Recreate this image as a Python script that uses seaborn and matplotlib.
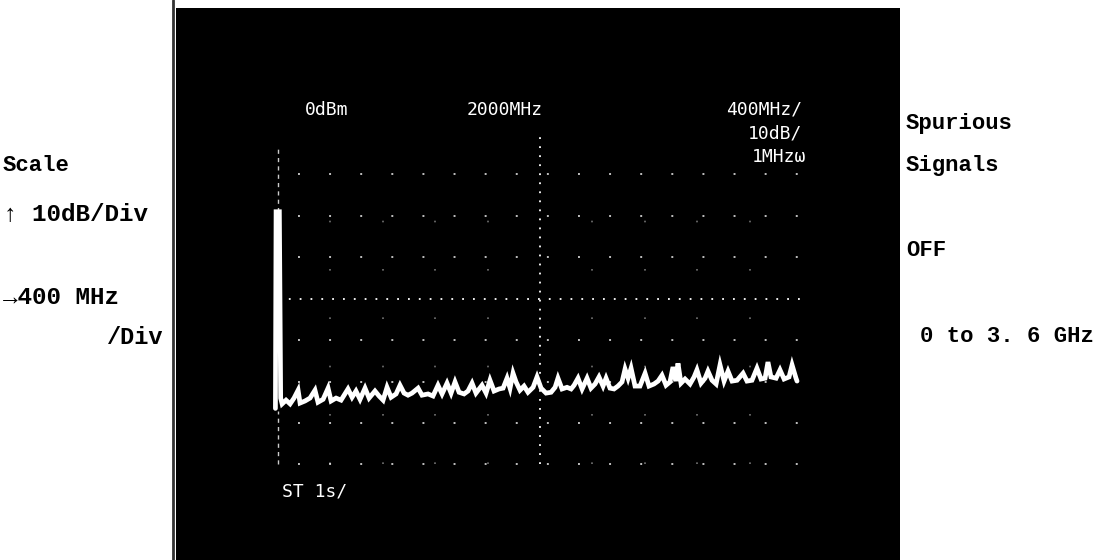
import pandas as pd
import seaborn as sns
from matplotlib import pyplot as plt

# spectrum trace (MHz, dBm)
freq_mhz = [-20, -15, 10, 20, 31, 61, 92, 122, 153, 168, 206, 244, 282, 305, 344, 382,
            405, 443, 481, 534, 565, 595, 626, 664, 695, 740, 771, 802, 832, 863, 901,
            931, 962, 992, 1023, 1069, 1099, 1145, 1183, 1221, 1252, 1290, 1321, 1351,
            1382, 1420, 1450, 1481, 1511, 1557, 1588, 1618, 1649, 1687, 1718, 1748, 1771,
            1794, 1817, 1847, 1878, 1908, 1947, 1977, 2008, 2046, 2084, 2115, 2137, 2168,
            2206, 2237, 2260, 2290, 2321, 2359, 2389, 2420, 2450, 2481, 2504, 2534, 2565,
            2595, 2626, 2649, 2672, 2695, 2725, 2763, 2802, 2832, 2870, 2901, 2931, 2962,
            2992, 3015, 3038, 3053, 3076, 3107, 3145, 3176, 3198, 3229, 3260, 3282, 3313,
            3344, 3374, 3405, 3435, 3466, 3504, 3550, 3580, 3618, 3656, 3687, 3718, 3740,
            3763, 3802, 3832, 3863, 3901, 3924, 3954, 3962]
level_dbm = [-66.5, -19.0, -19.0, -64.0, -65.4, -64.5, -65.4, -64.0, -62.1, -65.2, -64.7,
             -64.0, -62.1, -65.0, -64.3, -61.6, -64.7, -64.0, -64.5, -61.8, -63.8, -62.3,
             -64.3, -61.6, -64.0, -62.3, -63.5, -64.5, -61.4, -63.8, -63.0, -60.9, -62.8,
             -63.3, -62.8, -61.6, -63.3, -63.0, -63.5, -60.9, -63.0, -60.4, -62.8, -60.1,
             -62.6, -63.0, -62.3, -60.4, -62.8, -60.9, -62.8, -59.7, -62.3, -61.8, -61.6,
             -59.2, -61.6, -58.0, -60.1, -62.1, -61.1, -62.6, -61.4, -58.9, -61.6, -62.8,
             -62.6, -61.4, -59.2, -61.8, -61.4, -61.8, -60.9, -59.2, -61.8, -59.2, -61.6,
             -60.6, -58.9, -61.1, -59.2, -61.6, -61.8, -61.1, -60.1, -57.0, -59.2, -56.8,
             -61.1, -61.1, -58.0, -61.1, -60.6, -59.9, -58.5, -60.9, -60.1, -56.5, -59.9,
             -55.6, -60.4, -59.4, -60.6, -58.9, -57.2, -60.4, -59.2, -57.5, -59.7, -60.6,
             -56.0, -59.9, -57.5, -59.9, -59.7, -58.0, -59.9, -59.7, -56.8, -59.4, -59.2,
             -55.3, -58.9, -59.2, -57.2, -59.4, -58.9, -56.0, -59.2, -59.9]

# graticule: 400 MHz/div, 10 dB/div, ref 0 dBm
freq_div = [400, 800, 1200, 1600, 2400, 2800, 3200, 3600]
level_div = [-10, -20, -30, -50, -60, -70, -80]

screen_text = ['0dBm', '2000MHz', '400MHz/', '10dB/', '1MHzω', 'ST 1s/']
left_labels = ['Scale', '↑ 10dB/Div', '→400 MHz', '/Div']
right_labels = ['Spurious', 'Signals', 'OFF', '0 to 3. 6 GHz']

trace = pd.DataFrame({'freq': freq_mhz, 'level': level_dbm})

sns.set_style('white')
W, H = 1107, 560
fig = plt.figure(figsize=(W / 100, H / 100), dpi=100)
fig.patch.set_facecolor('white')

# black CRT screen, limits chosen so graticule sits where it does in the photo
ax = fig.add_axes([176 / W, 0, 724 / W, 552 / H])
ax.set_facecolor('black')
ax.set_xlim(-779, 4748)
ax.set_ylim(-103.1, 30.2)
ax.set_xticks([])
ax.set_yticks([])
for s in ax.spines.values():
    s.set_visible(False)

ax.hlines(level_div, 150, 4000, colors='white', linestyles=(0, (1, 15)), linewidth=1.4, alpha=0.75)
ax.hlines(-40, 0, 4000, colors='white', linestyles=(0, (1, 5)), linewidth=1.3)
ax.vlines(freq_div, -80, -10, colors='white', linestyles=(0, (1, 28)), linewidth=1.2, alpha=0.45)
ax.vlines(2000, -80, 0, colors='white', linestyles=(0, (1, 4)), linewidth=1.3)
ax.vlines(0, -39, -3, colors='white', linestyles=(0, (3, 3)), linewidth=1.0, alpha=0.8)
ax.vlines(0, -80, -67, colors='white', linestyles=(0, (3, 3)), linewidth=1.0, alpha=0.8)

sns.lineplot(data=trace, x='freq', y='level', ax=ax, color='white', linewidth=3.4,
             estimator=None, sort=False, solid_joinstyle='miter')
ax.set_xlabel('')
ax.set_ylabel('')

# thin dark line left of the screen
fig.add_artist(plt.Line2D([173 / W, 173 / W], [0, 1], color='#333333', linewidth=2))


def px(x, y):
    return x / W, 1 - y / H


mono = dict(family='DejaVu Sans Mono', color='white', fontsize=13, va='center')
fig.text(*px(305, 110), screen_text[0], ha='left', **mono)
fig.text(*px(467, 110), screen_text[1], ha='left', **mono)
fig.text(*px(802, 110), screen_text[2], ha='right', **mono)
fig.text(*px(802, 134), screen_text[3], ha='right', **mono)
fig.text(*px(806, 157), screen_text[4], ha='right', **mono)
fig.text(*px(282, 492), screen_text[5], ha='left', **mono)

label = dict(family='Liberation Mono', fontweight='bold', color='black', va='center')
fig.text(*px(3, 165), left_labels[0], ha='left', fontsize=16, **label)
fig.text(*px(3, 215), left_labels[1], ha='left', fontsize=17.5, **label)
fig.text(*px(3, 297), left_labels[2], ha='left', fontsize=17.5, **label)
fig.text(*px(163, 337), left_labels[3], ha='right', fontsize=17, **label)

fig.text(*px(906, 124), right_labels[0], ha='left', fontsize=16, **label)
fig.text(*px(906, 165), right_labels[1], ha='left', fontsize=16, **label)
fig.text(*px(906, 250), right_labels[2], ha='left', fontsize=16, **label)
fig.text(*px(920, 337), right_labels[3], ha='left', fontsize=16, **label)

fig.savefig('out.png', dpi=100, facecolor='white')
